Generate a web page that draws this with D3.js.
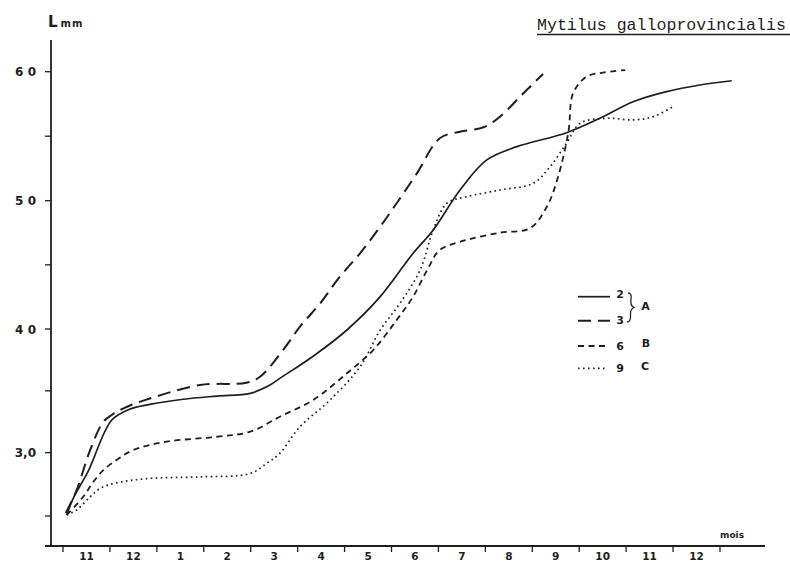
<!DOCTYPE html>
<html>
<head>
<meta charset="utf-8">
<script src="https://cdn.jsdelivr.net/npm/d3@7"></script>
<style>
  html, body { margin: 0; padding: 0; background: #fff; }
  svg { display: block; }
</style>
</head>
<body>
<svg id="chart" width="790" height="562"></svg>
<script>
// Month labels along the time axis (Nov of year 1 to Dec of year 2)
const monthLabels = ["11", "12", "1", "2", "3", "4", "5", "6", "7", "8", "9", "10", "11", "12"];
// Labelled and unlabelled length ticks (mm)
const lengthTicks = [25, 30, 35, 40, 45, 50, 55, 60];
const lengthLabels = { 30: "3,0", 40: "4 0", 50: "5 0", 60: "6 0" };

// Growth curves: [months since start of November, shell length in mm]
const curve2 = [
  [0.08, 25.08], [0.22, 26.42], [0.53, 28.48], [1.04, 32.64], [1.43, 33.53], [1.85, 33.9],
  [2.56, 34.32], [3.28, 34.58], [3.99, 34.80], [4.41, 35.47], [4.62, 36.01],
  [5.33, 37.80], [6.05, 39.92], [6.76, 42.52], [7.46, 45.90], [7.89, 47.72], [8.46, 50.83],
  [9.03, 53.16], [9.67, 54.19], [10.73, 55.27], [11.44, 56.39], [12.15, 57.67], [12.86, 58.45],
  [13.57, 58.97], [14.25, 59.30]
];
const curve3 = [
  [0.06, 25.24], [0.29, 27.05], [0.58, 30.22], [0.86, 32.51], [1.04, 33.05], [1.29, 33.59],
  [1.85, 34.38], [2.92, 35.47], [3.91, 35.66], [4.20, 36.14], [4.69, 38.30], [5.05, 40.18],
  [5.48, 42.00], [5.90, 44.08], [6.33, 45.90], [6.76, 47.98], [7.11, 49.80], [7.54, 52.12],
  [8.03, 54.84], [8.46, 55.35], [8.96, 55.69], [9.31, 56.51], [9.81, 58.33], [10.23, 59.82]
];
const curve6 = [
  [0.08, 25.08], [0.43, 26.52], [0.65, 27.71], [0.86, 28.63], [1.14, 29.42], [1.50, 30.22],
  [2.21, 30.89], [3.28, 31.29], [3.99, 31.70], [4.62, 32.91], [5.33, 34.26], [6.05, 36.42],
  [6.61, 38.30], [7.11, 40.70], [7.46, 42.52], [7.78, 44.73], [8.03, 46.16], [8.60, 46.94],
  [9.31, 47.51], [9.95, 47.85], [10.31, 49.53], [10.55, 51.86], [10.77, 55.35], [10.87, 58.33],
  [11.16, 59.62], [11.51, 59.93], [11.98, 60.13]
];
const curve9 = [
  [0.08, 25.08], [0.29, 25.47], [0.58, 26.52], [0.79, 27.18], [1.14, 27.62], [1.85, 27.97],
  [2.92, 28.09], [3.99, 28.36], [4.34, 29.16], [4.62, 29.95], [5.05, 32.10], [5.69, 34.26],
  [6.33, 36.95], [6.76, 39.92], [7.18, 42.00], [7.61, 44.60], [7.89, 47.72], [8.18, 49.80],
  [8.60, 50.31], [9.31, 50.83], [10.02, 51.35], [10.38, 52.64], [10.73, 54.46], [11.02, 56.01],
  [11.59, 56.39], [12.15, 56.26], [12.58, 56.52], [13.00, 57.29]
];

const series = [
  { id: "2", pts: curve2, dash: null,      width: 1.7 },
  { id: "3", pts: curve3, dash: "13,7",    width: 2.0 },
  { id: "6", pts: curve6, dash: "6,4.5",   width: 1.8 },
  { id: "9", pts: curve9, dash: "1.6,3.4", width: 1.7 }
];

const ink = "#1e1e1e";
const numFont = "'DejaVu Sans', sans-serif";
const svg = d3.select("#chart");

// Scales: months on x, length on y (hand-ruled axis, slightly uneven spacing)
const x = d3.scaleLinear().domain([0, 14]).range([63, 720]);
const y = d3.scaleLinear().domain([25, 30, 40, 50, 60]).range([516, 452.7, 329, 200.7, 71.7]);

const axisX0 = 51, axisY0 = 546;

// Axes lines
svg.append("line").attr("x1", axisX0).attr("x2", axisX0).attr("y1", 40).attr("y2", axisY0)
  .attr("stroke", ink).attr("stroke-width", 1.8);
svg.append("line").attr("x1", 45).attr("x2", 765).attr("y1", axisY0).attr("y2", axisY0)
  .attr("stroke", ink).attr("stroke-width", 1.8);

// Length ticks
svg.selectAll(".ytick").data(lengthTicks).join("line")
  .attr("x1", 45).attr("x2", axisX0)
  .attr("y1", d => y(d)).attr("y2", d => y(d))
  .attr("stroke", ink).attr("stroke-width", 1.3);
svg.selectAll(".ylab").data(lengthTicks.filter(d => lengthLabels[d])).join("text")
  .attr("x", 36).attr("y", d => y(d) + 4.5)
  .attr("text-anchor", "end")
  .attr("font-family", numFont).attr("font-weight", "bold").attr("font-size", 12)
  .attr("fill", ink)
  .text(d => lengthLabels[d]);

// Month ticks and labels
svg.selectAll(".xtick").data(d3.range(0, 15)).join("line")
  .attr("x1", d => x(d)).attr("x2", d => x(d))
  .attr("y1", axisY0).attr("y2", axisY0 + 6)
  .attr("stroke", ink).attr("stroke-width", 1.3);
svg.selectAll(".xlab").data(monthLabels).join("text")
  .attr("x", (d, i) => x(i + 0.5)).attr("y", 560)
  .attr("text-anchor", "middle")
  .attr("font-family", numFont).attr("font-weight", "bold").attr("font-size", 10.5)
  .attr("fill", ink)
  .text(d => d);

// Axis titles
const yTitle = svg.append("text").attr("x", 48).attr("y", 27)
  .attr("font-family", numFont).attr("font-weight", "bold").attr("fill", ink);
yTitle.append("tspan").attr("font-size", 15).text("L");
yTitle.append("tspan").attr("font-size", 10).attr("dx", 3).attr("letter-spacing", 1).text("mm");

svg.append("text").attr("x", 720).attr("y", 538)
  .attr("font-family", numFont).attr("font-weight", "bold").attr("font-size", 9)
  .attr("fill", ink).text("mois");

// Species title, underlined
svg.append("text").attr("x", 537).attr("y", 30)
  .attr("font-family", "'Liberation Mono', monospace").attr("font-size", 16.6)
  .attr("fill", ink).text("Mytilus galloprovincialis");
svg.append("line").attr("x1", 537).attr("x2", 790).attr("y1", 34.5).attr("y2", 34.5)
  .attr("stroke", ink).attr("stroke-width", 1.3);

// Growth curves
const line = d3.line().x(d => x(d[0])).y(d => y(d[1])).curve(d3.curveCatmullRom.alpha(0.5));
svg.selectAll(".curve").data(series).join("path")
  .attr("d", d => line(d.pts))
  .attr("fill", "none")
  .attr("stroke", ink)
  .attr("stroke-width", d => d.width)
  .attr("stroke-dasharray", d => d.dash)
  .attr("stroke-linejoin", "round");

// Legend
const legY = { "2": 296.7, "3": 320.7, "6": 346, "9": 368.3 };
const legLen = { "2": 32, "3": 32, "6": 29, "9": 29 };
const leg = svg.append("g");
series.forEach(s => {
  leg.append("line")
    .attr("x1", 578).attr("x2", 578 + legLen[s.id])
    .attr("y1", legY[s.id]).attr("y2", legY[s.id])
    .attr("stroke", ink).attr("stroke-width", s.width)
    .attr("stroke-dasharray", s.dash);
  leg.append("text")
    .attr("x", 620).attr("y", legY[s.id] + (s.id === "2" ? 1 : 3.5))
    .attr("text-anchor", "middle")
    .attr("font-family", numFont).attr("font-weight", "bold").attr("font-size", 11)
    .attr("fill", ink).text(s.id);
});
// Brace grouping curves 2 and 3
leg.append("path")
  .attr("d", "M628,293 Q632,293 631,299 Q630,306 634,307.5 Q630,309 630.5,315 Q631,322 627,322")
  .attr("fill", "none").attr("stroke", ink).attr("stroke-width", 1.3);
const groupLabels = [{ t: "A", x: 645.5, y: 310 }, { t: "B", x: 646, y: 347 }, { t: "C", x: 645, y: 370 }];
leg.selectAll(".grp").data(groupLabels).join("text")
  .attr("x", d => d.x).attr("y", d => d.y)
  .attr("text-anchor", "middle")
  .attr("font-family", numFont).attr("font-weight", "bold").attr("font-size", 11)
  .attr("fill", ink).text(d => d.t);
</script>
</body>
</html>
